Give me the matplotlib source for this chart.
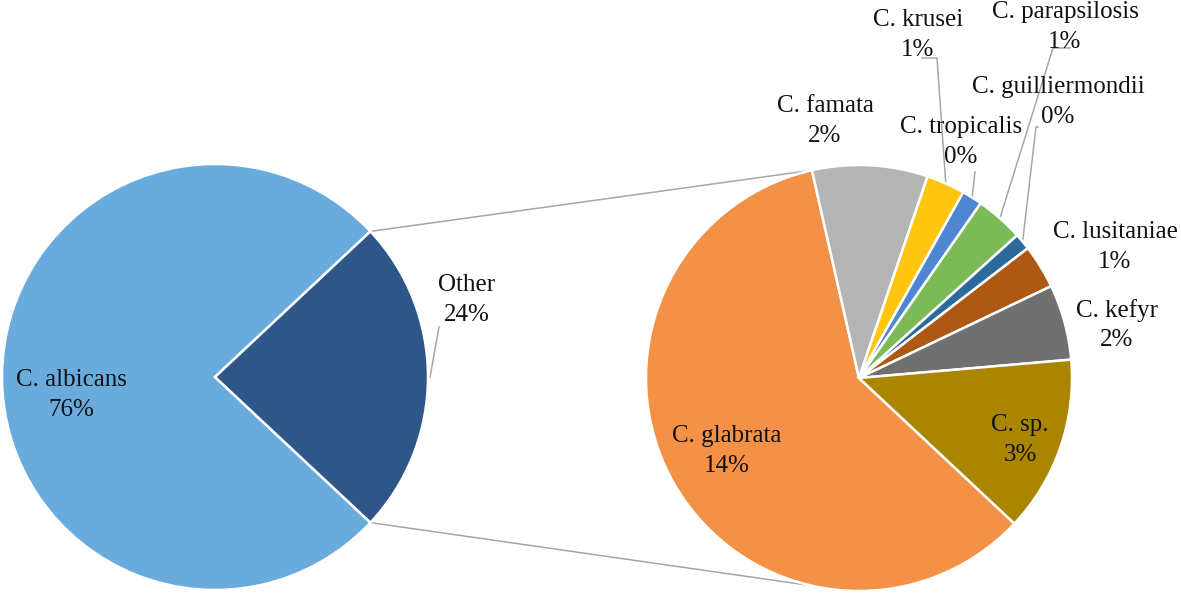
import numpy as np
import matplotlib.pyplot as plt

# data (share of all isolates, %)
primary_labels = ['C. albicans', 'Other']
albicans_value = 76.04
primary_pct = ['76%', '24%']

secondary_labels = ['C. glabrata', 'C. famata', 'C. krusei', 'C. tropicalis',
                    'C. parapsilosis', 'C. guilliermondii', 'C. lusitaniae',
                    'C. kefyr', 'C. sp.']
secondary_values = [14.25, 2.1, 0.7, 0.37, 0.87, 0.3, 0.8, 1.37, 3.2]
secondary_pct = ['14%', '2%', '1%', '0%', '1%', '0%', '1%', '2%', '3%']

primary_values = [albicans_value, sum(secondary_values)]

primary_colors = ['#6AABDE', '#2F5689']
secondary_colors = ['#F39247', '#B4B4B4', '#FFC50F', '#4E86D2', '#7CBA58',
                    '#2B6A9B', '#AD5913', '#707070', '#A98500']

W, H = 1181, 594
def Y(py):
    return H - py

fig = plt.figure(figsize=(W / 100, H / 100), dpi=100)
ax = fig.add_axes([0, 0, 1, 1])

R = 213
c1 = (215, Y(377))
c2 = (859, Y(378))
other_frac = primary_values[1] / sum(primary_values)
start = other_frac * 180

wp = dict(edgecolor='white', linewidth=1.8)
w1, _ = ax.pie(primary_values, colors=primary_colors, startangle=start,
               center=c1, radius=R, wedgeprops=wp)
w2, _ = ax.pie(secondary_values, colors=secondary_colors, startangle=-start,
               counterclock=False, center=c2, radius=R, wedgeprops=wp)

line_kw = dict(color='#A6A6A6', lw=1.1, zorder=0)

# connector lines between the two pies
top_ang = np.radians(w2[0].theta1)
for s in (1, -1):
    a1 = np.radians(s * start)
    a2 = s * top_ang
    ax.plot([c1[0] + R * np.cos(a1), c2[0] + R * np.cos(a2)],
            [c1[1] + R * np.sin(a1), c2[1] + R * np.sin(a2)], **line_kw)

def anchor(w, c):
    m = np.radians((w.theta1 + w.theta2) / 2)
    return c[0] + R * np.cos(m), c[1] + R * np.sin(m)

font = dict(family='Liberation Serif', fontsize=18, ha='center',
            va='center', linespacing=1.42, color='#111111')

# label centres (pixel coords of the picture)
primary_pos = [(71, 395), (467, 300)]
for lab, pct, (x, y) in zip(primary_labels, primary_pct, primary_pos):
    ax.text(x, Y(y), lab + '\n' + pct, **font)

secondary_pos = [(727, 451), (825, 121), (918, 35), (961, 142), (1065, 27),
                 (1058, 102), (1115, 247), (1117, 325), (1020, 440)]
for lab, pct, (x, y) in zip(secondary_labels, secondary_pct, secondary_pos):
    ax.text(x, Y(y), lab + '\n' + pct, **font)

# leader lines: wedge index -> elbow points
leaders = {2: [(922, 58), (937, 58)], 3: [(975, 172)],
           4: [(1070, 48), (1053, 48)], 5: [(1038, 127), (1036, 127)]}
for i, pts in leaders.items():
    ax_, ay_ = anchor(w2[i], c2)
    xs = [p[0] for p in pts] + [ax_]
    ys = [Y(p[1]) for p in pts] + [ay_]
    ax.plot(xs, ys, **line_kw)
ox, oy = anchor(w1[1], c1)
ax.plot([439, ox + 2], [Y(327), oy], **line_kw)

ax.set_xlim(0, W)
ax.set_ylim(0, H)
ax.axis('off')
fig.savefig('out.png', dpi=100)
